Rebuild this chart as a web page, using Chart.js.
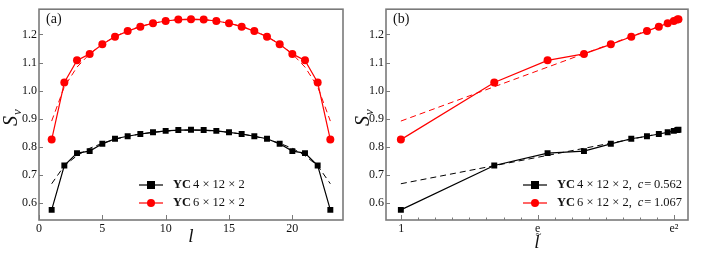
<!DOCTYPE html>
<html lang="en">
<head>
  <meta charset="UTF-8">
  <title>S_v vs l</title>
  <script src="https://cdn.jsdelivr.net/npm/chart.js"></script>
  <style>
    body { margin: 0; background: #fff; }
    .panel { position: absolute; top: 0; width: 353px; height: 256px; }
    #wrapA { left: 0; }
    #wrapB { left: 353px; }
  </style>
</head>
<body>
  <div class="panel" id="wrapA"><canvas id="chartA" width="353" height="256"></canvas></div>
  <div class="panel" id="wrapB"><canvas id="chartB" width="353" height="256"></canvas></div>

  <script>
    // subsystem length l
    const lValues = [1, 2, 3, 4, 5, 6, 7, 8, 9, 10, 11, 12, 13, 14, 15, 16, 17, 18, 19, 20, 21, 22, 23];
    // S_v for YC 4x12x2 and YC 6x12x2
    const sv4 = [0.576, 0.734, 0.778, 0.785, 0.811, 0.829, 0.838, 0.846, 0.852, 0.857, 0.860, 0.861,
                 0.860, 0.857, 0.852, 0.846, 0.838, 0.829, 0.811, 0.785, 0.778, 0.734, 0.576];
    const sv6 = [0.826, 1.029, 1.108, 1.131, 1.165, 1.192, 1.212, 1.228, 1.240, 1.248, 1.253, 1.254,
                 1.253, 1.248, 1.240, 1.228, 1.212, 1.192, 1.165, 1.131, 1.108, 1.029, 0.826];
    // dashed fits (CFT formula)
    const fit4 = [0.669, 0.733, 0.769, 0.795, 0.813, 0.827, 0.838, 0.846, 0.852, 0.856, 0.859, 0.860,
                  0.859, 0.856, 0.852, 0.846, 0.838, 0.827, 0.813, 0.795, 0.769, 0.733, 0.669];
    const fit6 = [0.892, 1.014, 1.084, 1.131, 1.166, 1.193, 1.213, 1.229, 1.240, 1.248, 1.253, 1.255,
                  1.253, 1.248, 1.240, 1.229, 1.213, 1.193, 1.166, 1.131, 1.084, 1.014, 0.892];
    // panel (b): x = ln(l~), for l = 1..12
    const lnChord = [-0.003, 0.682, 1.073, 1.340, 1.537, 1.687, 1.802, 1.889, 1.954, 1.999, 2.025, 2.033];
    const fitLineX = [-0.003, 2.033];
    const fitLine4 = [0.669, 0.860];
    const fitLine6 = [0.892, 1.255];
    const cValues = ['0.562', '1.067'];
    const yTicks = [0.6, 0.7, 0.8, 0.9, 1.0, 1.1, 1.2];
    const xTicksA = [0, 5, 10, 15, 20];
    const xTicksB = [0, 1, 2];
    const xTickLabelsB = ['1', 'e', 'e\u00B2'];
    const minorB = [0.125, 0.25, 0.375, 0.5, 0.625, 0.75, 0.875,
                    1.125, 1.25, 1.375, 1.5, 1.625, 1.75, 1.875];

    const SERIF = '"Liberation Serif", "DejaVu Serif", serif';
    const FRAME = '#7a7a7a';

    function pts(xs, ys) {
      return xs.map((x, i) => ({ x: x, y: ys[i] }));
    }

    function dataset(xs, ys, color, shape) {
      return {
        data: pts(xs, ys),
        borderColor: color,
        backgroundColor: color,
        borderWidth: 1.2,
        pointStyle: shape,
        pointRadius: shape === 'rect' ? 4.2 : 4,
        pointBorderWidth: 0,
        order: 0
      };
    }

    function fitSet(xs, ys, color) {
      return {
        data: pts(xs, ys),
        borderColor: color,
        borderWidth: 1,
        borderDash: [6, 4],
        pointRadius: 0,
        order: 1
      };
    }

    // frame, inward ticks, titles, legend
    function decorPlugin(opts) {
      return {
        id: 'decor',
        afterDraw(chart) {
          const ctx = chart.ctx;
          const a = chart.chartArea;
          const xs = chart.scales.x, ys = chart.scales.y;
          ctx.save();
          ctx.strokeStyle = FRAME;
          ctx.lineWidth = 1;
          // ticks
          ctx.beginPath();
          yTicks.forEach(v => {
            const p = Math.round(ys.getPixelForValue(v)) + 0.5;
            ctx.moveTo(a.left, p); ctx.lineTo(a.left + 4, p);
          });
          opts.xTicks.forEach(v => {
            const p = Math.round(xs.getPixelForValue(v)) + 0.5;
            ctx.moveTo(p, a.bottom); ctx.lineTo(p, a.bottom - 5);
          });
          (opts.minor || []).forEach(v => {
            const p = Math.round(xs.getPixelForValue(v)) + 0.5;
            ctx.moveTo(p, a.bottom); ctx.lineTo(p, a.bottom - 2.5);
          });
          ctx.stroke();
          ctx.lineWidth = 1.6;
          ctx.strokeRect(a.left, a.top, a.right - a.left, a.bottom - a.top);

          ctx.fillStyle = '#111';
          // panel label
          ctx.font = '14px ' + SERIF;
          ctx.textBaseline = 'middle';
          ctx.textAlign = 'left';
          ctx.fillText(opts.panel, a.left + 7, 19);

          // y title S_v
          ctx.save();
          ctx.translate(opts.yTitleX, 118);
          ctx.rotate(-Math.PI / 2);
          ctx.textAlign = 'left';
          ctx.textBaseline = 'alphabetic';
          ctx.font = 'italic 20px ' + SERIF;
          ctx.fillText('S', -8, 0);
          ctx.font = 'italic 13px ' + SERIF;
          ctx.fillText('v', 3, 4);
          ctx.restore();

          // x title
          ctx.font = 'italic 19px ' + SERIF;
          ctx.textAlign = 'center';
          ctx.textBaseline = 'alphabetic';
          const cx = (a.left + a.right) / 2 + opts.xTitleShift;
          ctx.fillText('l', cx, opts.tilde ? 248 : 242);
          if (opts.tilde) {
            ctx.font = '11px ' + SERIF;
            ctx.fillText('~', cx + 1.5, 237);
          }

          // legend
          const series = [
            { color: '#000', shape: 'rect', size: '4' },
            { color: '#ff0000', shape: 'circle', size: '6' }
          ];
          series.forEach((s, i) => {
            const y = 185 + i * 18;
            const lx = opts.legendX;
            ctx.strokeStyle = s.color;
            ctx.lineWidth = 1.2;
            ctx.beginPath();
            ctx.moveTo(lx, y); ctx.lineTo(lx + 24, y);
            ctx.stroke();
            ctx.fillStyle = s.color;
            if (s.shape === 'rect') {
              ctx.fillRect(lx + 12 - 4, y - 4, 8, 8);
            } else {
              ctx.beginPath();
              ctx.arc(lx + 12, y, 4, 0, Math.PI * 2);
              ctx.fill();
            }
            ctx.fillStyle = '#111';
            ctx.textAlign = 'left';
            ctx.textBaseline = 'middle';
            let tx = lx + 34;
            ctx.font = 'bold 12.5px ' + SERIF;
            ctx.fillText('YC', tx, y);
            tx += ctx.measureText('YC').width + 2;
            ctx.font = '12.5px ' + SERIF;
            const body = s.size + ' \u00D7 12 \u00D7 2' + (opts.withC ? ',' : '');
            ctx.fillText(body, tx, y);
            if (opts.withC) {
              tx += ctx.measureText(body).width + 6;
              ctx.font = 'italic 12.5px ' + SERIF;
              ctx.fillText('c', tx, y);
              tx += ctx.measureText('c').width + 1;
              ctx.font = '12.5px ' + SERIF;
              ctx.fillText('=\u2009' + cValues[i], tx, y);
            }
          });
          ctx.restore();
        }
      };
    }

    function baseOptions(xMin, xMax, xTicks, xLabel, yWidth, padRight) {
      return {
        responsive: false,
        animation: false,
        layout: { padding: { top: 4, right: padRight, left: 0, bottom: 0 } },
        plugins: { legend: { display: false }, tooltip: { enabled: false } },
        scales: {
          x: {
            type: 'linear',
            min: xMin,
            max: xMax,
            grid: { display: false, drawTicks: false },
            border: { display: false },
            afterBuildTicks: s => { s.ticks = xTicks.map(v => ({ value: v })); },
            afterFit: s => { s.height = 36; },
            ticks: {
              padding: 2,
              maxRotation: 0,
              autoSkip: false,
              color: '#111',
              font: { family: SERIF, size: 12 },
              callback: xLabel
            }
          },
          y: {
            min: 0.54,
            max: 1.29,
            grid: { display: false, drawTicks: false },
            border: { display: false },
            afterBuildTicks: s => { s.ticks = yTicks.map(v => ({ value: v })); },
            afterFit: s => { s.width = yWidth; },
            ticks: {
              padding: 2,
              color: '#111',
              font: { family: SERIF, size: 12 },
              callback: v => v.toFixed(1)
            }
          }
        }
      };
    }

    new Chart(document.getElementById('chartA'), {
      type: 'line',
      data: {
        datasets: [
          dataset(lValues, sv4, '#000', 'rect'),
          dataset(lValues, sv6, '#ff0000', 'circle'),
          fitSet(lValues, fit4, '#000'),
          fitSet(lValues, fit6, '#ff0000')
        ]
      },
      options: baseOptions(0, 24, xTicksA, v => String(v), 39, 10),
      plugins: [decorPlugin({
        panel: '(a)', xTicks: xTicksA, yTitleX: 17, xTitleShift: 0,
        legendX: 139, withC: false, tilde: false
      })]
    });

    new Chart(document.getElementById('chartB'), {
      type: 'line',
      data: {
        datasets: [
          dataset(lnChord, sv4.slice(0, 12), '#000', 'rect'),
          dataset(lnChord, sv6.slice(0, 12), '#ff0000', 'circle'),
          fitSet(fitLineX, fitLine4, '#000'),
          fitSet(fitLineX, fitLine6, '#ff0000')
        ]
      },
      options: baseOptions(-0.112, 2.103, xTicksB, (v, i) => xTickLabelsB[i], 33, 18),
      plugins: [decorPlugin({
        panel: '(b)', xTicks: xTicksB, minor: minorB,
        yTitleX: 16, xTitleShift: 0, legendX: 170, withC: true, tilde: true
      })]
    });
  </script>
</body>
</html>
